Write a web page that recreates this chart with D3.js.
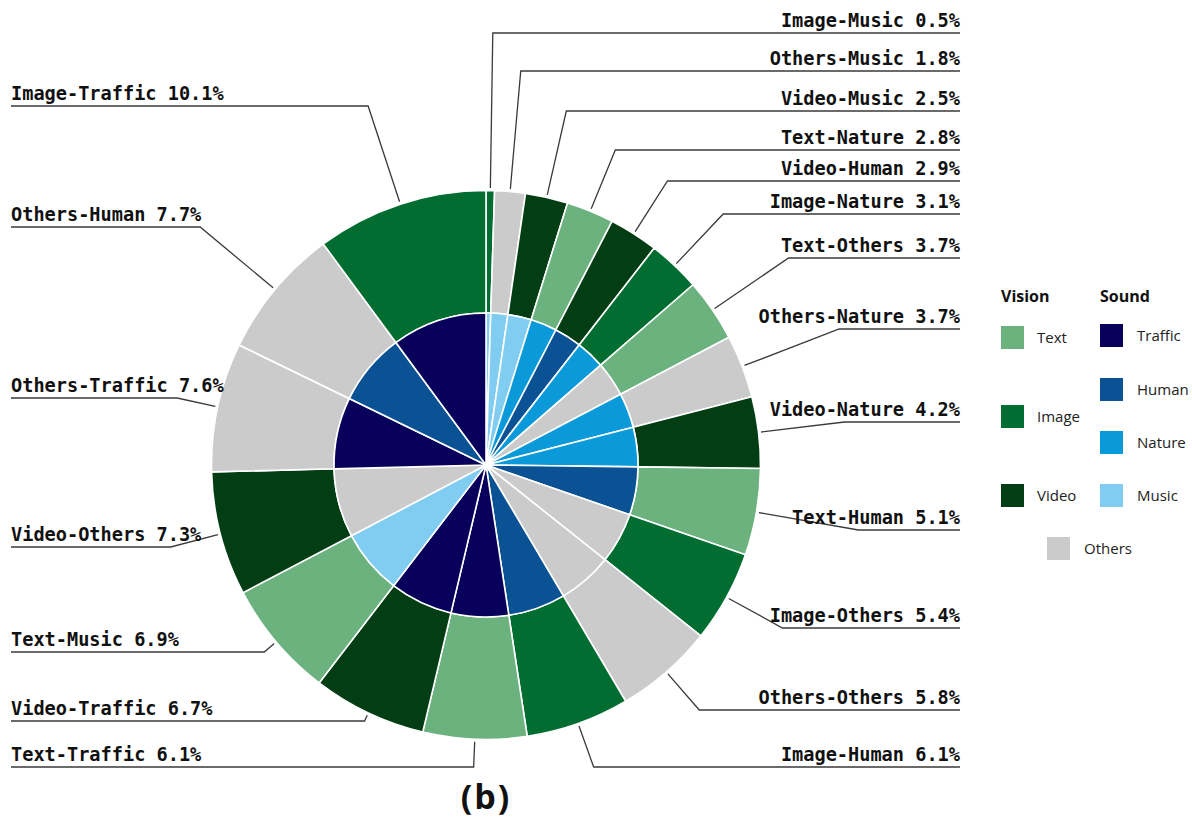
<!DOCTYPE html>
<html>
<head>
<meta charset="utf-8">
<script src="https://cdn.jsdelivr.net/npm/d3@7"></script>
<style>
  html, body { margin: 0; padding: 0; background: #fff; }
  svg { display: block; }
</style>
</head>
<body>
<svg id="chart" width="1192" height="819"></svg>
<script>
// ---- data (clockwise from 12 o'clock) ----
const visionCat = ["Image","Others","Video","Text","Video","Image","Text","Others","Video","Text",
                   "Image","Others","Image","Text","Video","Text","Video","Others","Others","Image"];
const soundCat  = ["Music","Music","Music","Nature","Human","Nature","Others","Nature","Nature","Human",
                   "Others","Others","Human","Traffic","Traffic","Music","Others","Traffic","Human","Traffic"];
const shares    = [0.5,1.8,2.5,2.8,2.9,3.1,3.7,3.7,4.2,5.1,5.4,5.8,6.1,6.1,6.7,6.9,7.3,7.6,7.7,10.1];

const visionKeys = ["Text","Image","Video","Others"];
const soundKeys  = ["Traffic","Human","Nature","Music","Others"];

// ---- layout (label rows) ----
const labelRowY = [33,71,111,150,181,214,258,329,422,530,628,710,767,
                   767,721,652,547,398,227,106];

const visionColor = d3.scaleOrdinal().domain(visionKeys)
  .range(["#6bb27f","#016d30","#033d14","#cbcbcb"]);
const soundColor = d3.scaleOrdinal().domain(soundKeys)
  .range(["#08005a","#0a5294","#0a9ad9","#80cdf1","#cbcbcb"]);

const svg = d3.select("#chart");
const cx = 486, cy = 465, rIn = 152, rOut = 274.5;

const rows = shares.map((v, i) => ({vision: visionCat[i], sound: soundCat[i], value: v, i}));
const pie = d3.pie().sort(null).value(d => d.value).startAngle(0).endAngle(2 * Math.PI);
const arcs = pie(rows);

const g = svg.append("g").attr("transform", `translate(${cx},${cy})`);
const innerArc = d3.arc().innerRadius(0).outerRadius(rIn);
const outerArc = d3.arc().innerRadius(rIn).outerRadius(rOut);

g.selectAll("path.outer").data(arcs).join("path")
  .attr("class", "outer")
  .attr("d", outerArc)
  .attr("fill", d => visionColor(d.data.vision))
  .attr("stroke", "#fff").attr("stroke-width", 1.6);

g.selectAll("path.inner").data(arcs).join("path")
  .attr("class", "inner")
  .attr("d", innerArc)
  .attr("fill", d => soundColor(d.data.sound))
  .attr("stroke", "#fff").attr("stroke-width", 1.6);

// ---- labels with leader lines ----
const labelFont = "'DejaVu Sans Mono', monospace";
const lg = svg.append("g");
arcs.forEach((a, k) => {
  const mid = (a.startAngle + a.endAngle) / 2;
  const sx = Math.sin(mid), sy = -Math.cos(mid);
  const y = labelRowY[k];
  const r0 = rOut + 2.5;
  const x0 = cx + r0 * sx, y0 = cy + r0 * sy;
  let t = (y - cy) / sy;
  if (!isFinite(t) || t < r0) t = r0;
  const ex = cx + t * sx;
  const right = sx >= 0;
  const lineEnd = right ? 960 : 11;
  lg.append("path")
    .attr("d", `M${x0},${y0}L${ex},${y}L${lineEnd},${y}`)
    .attr("fill", "none").attr("stroke", "#3a3a3a").attr("stroke-width", 1.3);
  lg.append("text")
    .attr("x", right ? 960 : 11)
    .attr("y", y - 6)
    .attr("text-anchor", right ? "end" : "start")
    .attr("font-family", labelFont)
    .attr("font-weight", "bold")
    .attr("font-size", 18.6)
    .attr("fill", "#111")
    .text(`${a.data.vision}-${a.data.sound} ${a.data.value.toFixed(1)}%`);
});

// ---- legend ----
const legFont = "'Open Sans', 'Noto Sans', sans-serif";
const leg = svg.append("g").attr("font-family", legFont);
leg.append("text").attr("x", 1001).attr("y", 302).attr("font-weight", "bold")
  .attr("font-size", 16).attr("fill", "#111").text("Vision");
leg.append("text").attr("x", 1100).attr("y", 302).attr("font-weight", "bold")
  .attr("font-size", 16).attr("fill", "#111").text("Sound");

const visLeg = [["Text",326],["Image",405],["Video",484]];
const sndLeg = [["Traffic",324],["Human",378],["Nature",431],["Music",484]];
const sw = 23;
visLeg.forEach(([k, y]) => {
  leg.append("rect").attr("x", 1001).attr("y", y).attr("width", sw).attr("height", sw)
    .attr("fill", visionColor(k));
  leg.append("text").attr("x", 1037).attr("y", y + sw / 2 + 5).attr("font-size", 15)
    .attr("fill", "#222").text(k);
});
sndLeg.forEach(([k, y]) => {
  leg.append("rect").attr("x", 1100).attr("y", y).attr("width", sw).attr("height", sw)
    .attr("fill", soundColor(k));
  leg.append("text").attr("x", 1137).attr("y", y + sw / 2 + 5).attr("font-size", 15)
    .attr("fill", "#222").text(k);
});
leg.append("rect").attr("x", 1047).attr("y", 537).attr("width", sw).attr("height", sw)
  .attr("fill", soundColor("Others"));
leg.append("text").attr("x", 1084).attr("y", 537 + sw / 2 + 5).attr("font-size", 15)
  .attr("fill", "#222").text("Others");

// ---- title ----
svg.append("text").attr("x", 486).attr("y", 809).attr("text-anchor", "middle")
  .attr("font-family", legFont).attr("font-weight", "bold").attr("font-size", 34)
  .attr("letter-spacing", 2)
  .attr("fill", "#111").text("(b)");
</script>
</body>
</html>
